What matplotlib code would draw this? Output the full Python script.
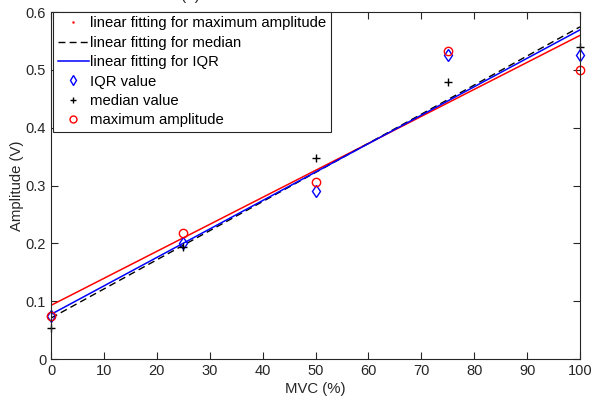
import numpy as np
import matplotlib
matplotlib.use("Agg")
import matplotlib.pyplot as plt
from matplotlib.lines import Line2D

plt.rcParams['font.family'] = ['Liberation Sans', 'DejaVu Sans']
plt.rcParams['font.size'] = 10.5

mvc = [0, 25, 50, 75, 100]
max_amp = [0.074, 0.218, 0.306, 0.533, 0.500]
median_val = [0.053, 0.194, 0.347, 0.479, 0.540]
iqr_val = [0.074, 0.200, 0.290, 0.526, 0.526]

xticks = list(range(0, 101, 10))
yticks = [0, 0.1, 0.2, 0.3, 0.4, 0.5, 0.6]
ytick_labels = ["0", "0.1", "0.2", "0.3", "0.4", "0.5", "0.6"]

fig = plt.figure(figsize=(5.91, 4.01), dpi=100)
ax = fig.add_axes([0.0863, 0.1047, 0.8951, 0.8653])

xs = np.array(mvc, dtype=float)
xf = np.array([0, 100], dtype=float)
p_max = np.polyfit(xs, max_amp, 1)
p_med = np.polyfit(xs, median_val, 1)
p_iqr = np.polyfit(xs, iqr_val, 1)

ax.plot(xf, np.polyval(p_max, xf), color='red', lw=1.1)
ax.plot(xf, np.polyval(p_med, xf), color='black', lw=1.0, ls=(0, (5, 3)))
ax.plot(xf, np.polyval(p_iqr, xf), color='blue', lw=1.1)
ax.plot(mvc, iqr_val, ls='none', marker='d', mfc='none', mec='blue', ms=6, mew=1, clip_on=False)
ax.plot(mvc, median_val, ls='none', marker='+', color='black', ms=6, mew=1, clip_on=False)
ax.plot(mvc, max_amp, ls='none', marker='o', mfc='none', mec='red', ms=6, mew=1, clip_on=False)

ax.set_xlim(0, 100)
ax.set_ylim(0, 0.6)
ax.set_xticks(xticks)
ax.set_yticks(yticks)
ax.set_yticklabels(ytick_labels)
ax.tick_params(direction='in', top=True, right=True, length=5, width=0.8, colors='#262626', labelsize=10.5)
for s in ax.spines.values():
    s.set_color('#262626')
    s.set_linewidth(0.8)
ax.set_xlabel('MVC (%)', color='#262626', fontsize=10.7, labelpad=3)
ax.set_ylabel('Amplitude (V)', color='#262626', fontsize=10.7, labelpad=1)

handles = [
    Line2D([], [], color='red', marker='.', ms=1.5, ls='none'),
    Line2D([], [], color='black', lw=1.0, ls=(0, (5, 3))),
    Line2D([], [], color='blue', lw=1.1),
    Line2D([], [], ls='none', marker='d', mfc='none', mec='blue', ms=5),
    Line2D([], [], ls='none', marker='+', color='black', ms=5),
    Line2D([], [], ls='none', marker='o', mfc='none', mec='red', ms=5),
]
labels = ['linear fitting for maximum amplitude', 'linear fitting for median',
          'linear fitting for IQR', 'IQR value', 'median value', 'maximum amplitude']
leg = ax.legend(handles, labels, loc='upper left', bbox_to_anchor=(0.004, 1.0),
                fancybox=False, framealpha=1, edgecolor='#262626', handlelength=2.1,
                handletextpad=0.1, labelspacing=0.36, borderpad=0.3, borderaxespad=0.0,
                fontsize=10.7)
leg.get_frame().set_linewidth(0.8)

fig.text(0.322, 1.0 + 4 / 401, '(a)', ha='center', va='center', fontsize=11, color='#262626')

fig.savefig('out.png', dpi=100)
